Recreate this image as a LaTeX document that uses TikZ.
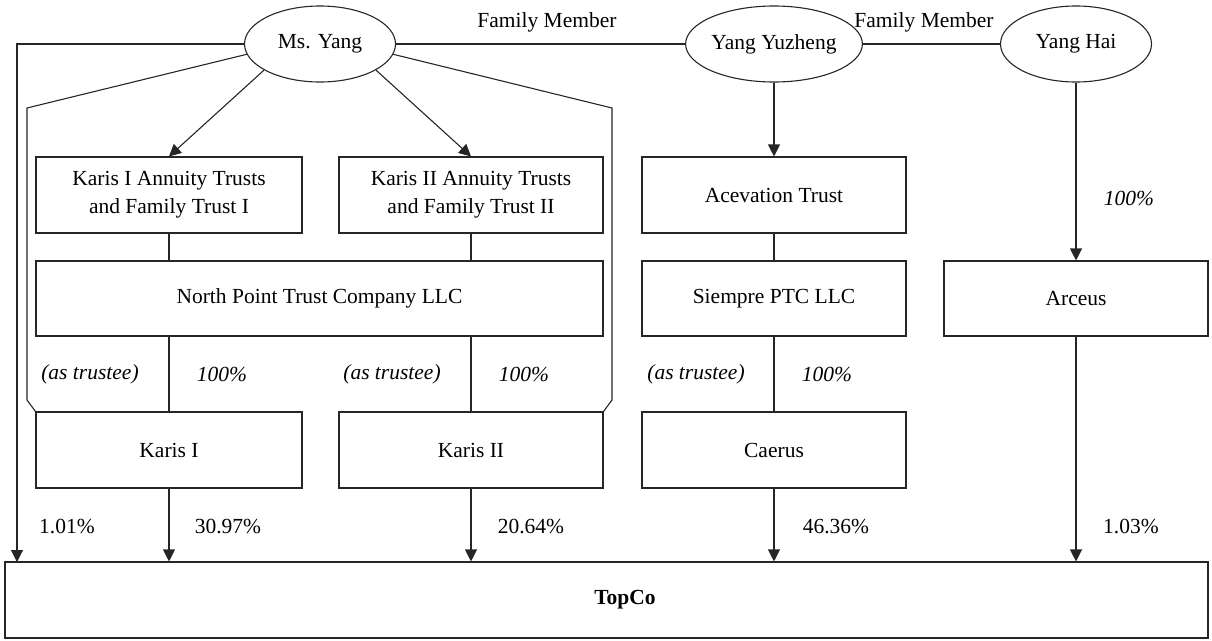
\documentclass[tikz,border=0pt]{standalone}
\usepackage{fontspec}
\setmainfont{Liberation Serif}
\usetikzlibrary{arrows.meta,shapes.geometric}
\begin{document}
\begin{tikzpicture}[x=1pt,y=-1pt,
  every node/.style={font=\fontsize{21.5}{28}\selectfont, text=black},
  ln/.style={draw=black!85, line width=1.1pt},
  arr/.style={ln, -{Triangle[width=12pt,length=12pt]}},
  person/.style={ellipse, ln, inner sep=0pt, minimum width=151pt, minimum height=76pt},
  box/.style={rectangle, ln, inner sep=0pt, minimum height=76pt, align=center},
  lbl/.style={inner sep=0pt},
  ilbl/.style={inner sep=0pt, font=\fontsize{21.5}{28}\selectfont\itshape}
]
\useasboundingbox (0,0) rectangle (1212,640);

% persons
\node[person] (ms) at (320,44) {Ms. Yang};
\node[person] (yy) at (774,44) {Yang Yuzheng};
\node[person] (yh) at (1076,44) {Yang Hai};

% boxes
\node[box, minimum width=266pt] (k1a) at (169,195) {Karis I Annuity Trusts\\and Family Trust I};
\node[box, minimum width=264pt] (k2a) at (471,195) {Karis II Annuity Trusts\\and Family Trust II};
\node[box, minimum width=567pt, minimum height=75pt] (np) at (319.5,298.5) {North Point Trust Company LLC};
\node[box, minimum width=266pt] (k1) at (169,450) {Karis I};
\node[box, minimum width=264pt] (k2) at (471,450) {Karis II};
\node[box, minimum width=264pt] (at) at (774,195) {Acevation Trust};
\node[box, minimum width=264pt, minimum height=75pt] (sp) at (774,298.5) {Siempre PTC LLC};
\node[box, minimum width=264pt, minimum height=75pt] (ar) at (1076,298.5) {Arceus};
\node[box, minimum width=264pt] (ca) at (774,450) {Caerus};
\node[box, minimum width=1203pt] (top) at (606.5,600) {};
\node[lbl, font=\fontsize{21.5}{28}\selectfont\bfseries] (toplbl) at (625,600) {TopCo};

% coordinates
\coordinate (lc) at (17,562);
\coordinate (oL1) at (27,108);
\coordinate (oL2) at (27,400);
\coordinate (oR1) at (612,108);
\coordinate (oR2) at (612,400);

% family lines
\draw[ln] (ms.east) -- (yy.west);
\draw[ln] (yy.east) -- (yh.west);
\node[lbl] (fm1) at (547,22) {Family Member};
\node[lbl] (fm2) at (924,22) {Family Member};

% Ms Yang connectors
\draw[arr] (ms.west) -| (lc);
\draw[arr] (ms.205) -- (k1a.north);
\draw[arr] (ms.335) -- (k2a.north);
\draw[ln] (ms.188) -- (oL1) -- (oL2) -- (k1.north west);
\draw[ln] (ms.352) -- (oR1) -- (oR2) -- (k2.north east);

\draw[arr] (yy.south) -- (at.north);
\draw[arr] (yh.south) -- (ar.north);

% trust lines
\draw[ln] (k1a.south) -- (k1a.south |- np.north);
\draw[ln] (k2a.south) -- (k2a.south |- np.north);
\draw[ln] (k1.north |- np.south) -- (k1.north);
\draw[ln] (k2.north |- np.south) -- (k2.north);
\draw[ln] (at.south) -- (sp.north);
\draw[ln] (sp.south) -- (ca.north);

% to TopCo
\draw[arr] (k1.south) -- (k1.south |- top.north);
\draw[arr] (k2.south) -- (k2.south |- top.north);
\draw[arr] (ca.south) -- (ca.south |- top.north);
\draw[arr] (ar.south) -- (ar.south |- top.north);

% labels
\node[ilbl] (t1) at (90,374) {(as trustee)};
\node[ilbl] (p1) at (222,374) {100\%};
\node[ilbl] (t2) at (392,374) {(as trustee)};
\node[ilbl] (p2) at (524,374) {100\%};
\node[ilbl] (t3) at (696,374) {(as trustee)};
\node[ilbl] (p3) at (827,374) {100\%};
\node[ilbl] (p4) at (1129,198) {100\%};

\node[lbl] (q1) at (67,526) {1.01\%};
\node[lbl] (q2) at (228,526) {30.97\%};
\node[lbl] (q3) at (531,526) {20.64\%};
\node[lbl] (q4) at (836,526) {46.36\%};
\node[lbl] (q5) at (1131,526) {1.03\%};
\end{tikzpicture}
\end{document}
